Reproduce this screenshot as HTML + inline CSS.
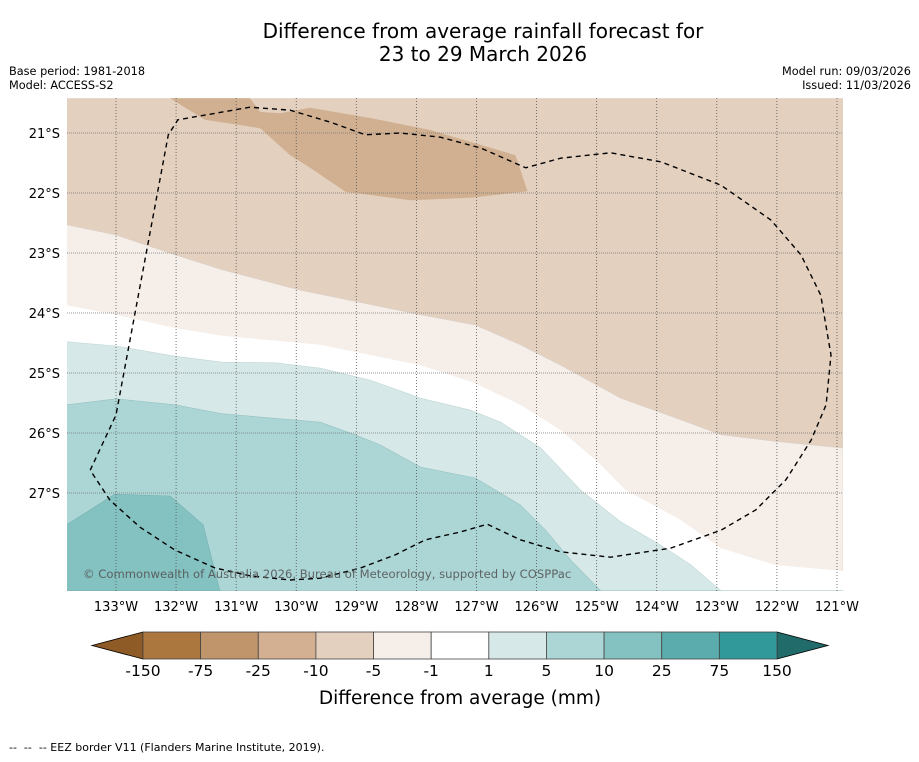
<!DOCTYPE html>
<html><head><meta charset="utf-8"><style>
body{margin:0;background:#fff;width:919px;height:758px;overflow:hidden;font-family:"DejaVu Sans","Liberation Sans",sans-serif;}
svg text{font-family:"DejaVu Sans","Liberation Sans",sans-serif;}
</style></head><body>
<svg id="chart" width="919" height="758" xmlns="http://www.w3.org/2000/svg">
<rect width="919" height="758" fill="#fff"/>
<text x="483" y="38" font-size="20" text-anchor="middle" fill="#000">Difference from average rainfall forecast for</text>
<text x="483" y="61" font-size="20" text-anchor="middle" fill="#000">23 to 29 March 2026</text>
<text x="9" y="75" font-size="11.3">Base period: 1981-2018</text>
<text x="9" y="89" font-size="11.3">Model: ACCESS-S2</text>
<text x="911" y="75" font-size="11.3" text-anchor="end">Model run: 09/03/2026</text>
<text x="911" y="89" font-size="11.3" text-anchor="end">Issued: 11/03/2026</text>
<defs><clipPath id="mapclip"><rect x="67" y="98" width="776" height="493"/></clipPath></defs>
<g id="map" clip-path="url(#mapclip)"></g>
<g id="axes"></g>
<text x="83" y="578" font-size="11.6" fill="#555" fill-opacity="0.9">© Commonwealth of Australia 2026, Bureau of Meteorology, supported by COSPPac</text>
<g id="cbar"></g>
<text x="460" y="704" font-size="18.5" text-anchor="middle">Difference from average (mm)</text>
<text x="9" y="751" font-size="11" xml:space="preserve" style="white-space:pre">--  --  -- EEZ border V11 (Flanders Marine Institute, 2019).</text>
</svg>
<script>
const lonTicks=[-133,-132,-131,-130,-129,-128,-127,-126,-125,-124,-123,-122,-121];
const latTicks=[-21,-22,-23,-24,-25,-26,-27];
const levels=[-150,-75,-25,-10,-5,-1,1,5,10,25,75,150];
const levelColors=["#ac773e","#c1956b","#d3b092","#e3d0bf","#f5eee9","#ffffff","#d6e9e8","#acd6d6","#84c2c1","#5aadac","#32999a"];
const lowTipColor="#8e5a25", highTipColor="#216b6b";
const boundTan=[[-133.82,-22.53],[-133,-22.7],[-132.02,-23.03],[-131.23,-23.28],[-129.93,-23.62],[-127.93,-24.03],[-127.02,-24.2],[-126.27,-24.53],[-125.6,-24.87],[-124.6,-25.42],[-123.6,-25.78],[-122.93,-26.03],[-121.93,-26.15],[-120.9,-26.25]];
const boundPink=[[-133.82,-23.87],[-133,-24.03],[-132.02,-24.25],[-131.23,-24.38],[-129.6,-24.53],[-127.93,-24.87],[-127.02,-25.17],[-126.27,-25.53],[-125.6,-25.95],[-124.93,-26.53],[-124.52,-26.95],[-123.6,-27.45],[-122.93,-27.92],[-122.02,-28.2],[-120.9,-28.3]];
const boundWhite=[[-133.82,-24.48],[-133,-24.55],[-132.02,-24.72],[-131.23,-24.82],[-130.35,-24.83],[-129.6,-24.92],[-128.77,-25.12],[-127.93,-25.42],[-127.1,-25.62],[-126.6,-25.82],[-125.93,-26.25],[-125.27,-26.95],[-124.6,-27.48],[-123.93,-27.87],[-123.43,-28.2],[-122.93,-28.63]];
const boundTeal=[[-133.82,-25.53],[-133,-25.43],[-132.02,-25.53],[-131.23,-25.68],[-129.6,-25.82],[-129.02,-26.03],[-128.6,-26.2],[-127.93,-26.57],[-127.02,-26.75],[-126.27,-27.2],[-125.85,-27.62],[-125.43,-28.12],[-124.93,-28.63]];
const polyDarkTeal=[[-133.82,-27.53],[-133.02,-27.02],[-132.1,-27.05],[-131.55,-27.53],[-131.27,-28.63],[-133.82,-28.63]];
const polyDarkTan=[[-132.1,-20.42],[-131.52,-20.78],[-130.6,-20.92],[-130.1,-21.37],[-129.77,-21.58],[-129.18,-21.98],[-128.1,-22.12],[-127.1,-22.08],[-126.15,-21.97],[-126.35,-21.37],[-127.77,-20.95],[-128.77,-20.75],[-129.77,-20.58],[-130.27,-20.67],[-130.6,-20.65],[-130.77,-20.42]];
const eez=[[-133.43,-26.62],[-133,-25.7],[-132.13,-21.03],[-131.97,-20.78],[-130.77,-20.57],[-130.1,-20.62],[-129.43,-20.82],[-128.85,-21.03],[-128.27,-21.0],[-127.6,-21.07],[-126.93,-21.25],[-126.18,-21.58],[-125.6,-21.42],[-124.77,-21.33],[-123.93,-21.48],[-122.93,-21.87],[-122.1,-22.45],[-121.6,-23.03],[-121.27,-23.7],[-121.1,-24.7],[-121.18,-25.53],[-121.43,-26.12],[-121.85,-26.78],[-122.35,-27.28],[-122.93,-27.62],[-123.77,-27.92],[-124.77,-28.07],[-125.6,-27.98],[-126.27,-27.78],[-126.82,-27.52],[-127.27,-27.65],[-127.85,-27.78],[-128.35,-28.03],[-128.93,-28.25],[-129.6,-28.42],[-130.1,-28.45],[-130.77,-28.38],[-131.35,-28.25],[-132.02,-27.95],[-132.6,-27.57],[-133.1,-27.12],[-133.43,-26.62]];
const xS=lon=>116+(lon+133)*60.08;
const yS=lat=>133+(-21-lat)*60;
const NS="http://www.w3.org/2000/svg";
const map=document.getElementById('map'),axes=document.getElementById('axes'),cbar=document.getElementById('cbar');
function mk(tag,attrs,parent){const e=document.createElementNS(NS,tag);for(const k in attrs)e.setAttribute(k,attrs[k]);parent.appendChild(e);return e;}
function pts(a){return a.map(p=>xS(p[0]).toFixed(1)+','+yS(p[1]).toFixed(1)).join(' ');}
function below(b){return pts(b)+' '+xS(-120.9)+','+yS(-28.63)+' '+xS(-133.82)+','+yS(-28.63);}
const W=-133.82,E=-120.9,N=-20.42,S=-28.63;
let r=mk('rect',{x:xS(W),y:yS(N),width:xS(E)-xS(W),height:yS(S)-yS(N),fill:levelColors[3]},map);


let p=mk('polygon',{points:below(boundTan),fill:levelColors[4],stroke:'#d8cfc8','stroke-width':0.5},map);


p=mk('polygon',{points:below(boundPink),fill:levelColors[5]},map);


p=mk('polygon',{points:below(boundWhite),fill:levelColors[6],stroke:'#c0d6d5','stroke-width':0.6},map);


p=mk('polygon',{points:below(boundTeal),fill:levelColors[7],stroke:'#98c0c0','stroke-width':0.6},map);


p=mk('polygon',{points:pts(polyDarkTeal),fill:levelColors[8],stroke:'#78b0b0','stroke-width':0.6},map);


p=mk('polygon',{points:pts(polyDarkTan),fill:"#d0b090"},map);


lonTicks.forEach(l=>{const x=xS(l);
 const g=mk('line',{x1:x,y1:98,x2:x,y2:591,stroke:'#555','stroke-width':0.8,'stroke-dasharray':'1,2'},map);
 
 
 const t=mk('text',{x:x,y:611,'font-size':13,'text-anchor':'middle'},axes);t.textContent=Math.abs(l)+'°W';
 
 });
latTicks.forEach(l=>{const y=yS(l);
 const g=mk('line',{x1:67,y1:y,x2:843,y2:y,stroke:'#777','stroke-width':0.8,'stroke-dasharray':'1,1'},map);
 
 
 const t=mk('text',{x:60,y:y+5,'font-size':13,'text-anchor':'end'},axes);t.textContent=Math.abs(l)+'°S';
 
 });
p=mk('polyline',{points:pts(eez),fill:'none',stroke:'#000','stroke-width':1.4,'stroke-dasharray':'5,4'},map);


const cx0=143,cx1=777,cy=632,ch=27,bw=(cx1-cx0)/(levels.length-1);
p=mk('polygon',{points:`${cx0},${cy} ${cx0},${cy+ch} 92,${cy+ch/2}`,fill:lowTipColor,stroke:'#000','stroke-width':0.8},cbar);


p=mk('polygon',{points:`${cx1},${cy} ${cx1},${cy+ch} 828,${cy+ch/2}`,fill:highTipColor,stroke:'#000','stroke-width':0.8},cbar);


levelColors.forEach((c,i)=>{const b=mk('rect',{x:cx0+i*bw,y:cy,width:bw,height:ch,fill:c,stroke:'#444','stroke-width':0.8},cbar);
 
 });
levels.forEach((v,i)=>{const t=mk('text',{x:cx0+i*bw,y:676,'font-size':15.5,'text-anchor':'middle'},cbar);t.textContent=v;
 
 });
</script>
</body></html>
